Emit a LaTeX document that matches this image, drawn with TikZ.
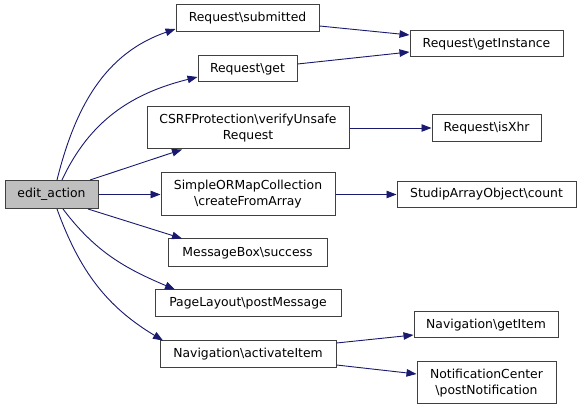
\documentclass[tikz,border=0pt]{standalone}
\usepackage{fontspec}
\setmainfont{DejaVu Sans}
\usetikzlibrary{arrows.meta}
\definecolor{edgeblue}{HTML}{191970}
\definecolor{boxgray}{HTML}{BFBFBF}
\definecolor{boxline}{HTML}{404040}
\begin{document}
\begin{tikzpicture}[x=1pt,y=1pt,
  fn/.style={draw=boxline,line width=1pt,fill=white,inner sep=0pt,align=center,
    font=\fontsize{12.4}{16}\selectfont},
  cur/.style={fn,fill=boxgray},
  call/.style={draw=edgeblue,line width=0.9pt,-{Triangle[length=10pt,width=7.5pt]}}]
\useasboundingbox (0,0) rectangle (581,-411);
\fill[white] (0,0) rectangle (581,-411);
% nodes
\node[cur,minimum width=93pt,minimum height=28pt] (E) at (51.5,-194.5) {edit\_action};
\node[fn,minimum width=143pt,minimum height=27pt] (RS) at (247.5,-18.5) {Request\textbackslash submitted};
\node[fn,minimum width=99pt,minimum height=26pt] (RG) at (247.5,-69) {Request\textbackslash get};
\node[fn,minimum width=202pt,minimum height=42pt] (CS) at (248,-128) {CSRFProtection\textbackslash verifyUnsafe\\Request};
\node[fn,minimum width=174pt,minimum height=43pt] (SO) at (248,-194.5) {SimpleORMapCollection\\\textbackslash createFromArray};
\node[fn,minimum width=159pt,minimum height=28pt] (MB) at (247.5,-253) {MessageBox\textbackslash success};
\node[fn,minimum width=186pt,minimum height=27pt] (PL) at (248,-303.5) {PageLayout\textbackslash postMessage};
\node[fn,minimum width=176pt,minimum height=27pt] (NA) at (248,-354.5) {Navigation\textbackslash activateItem};
\node[fn,minimum width=153pt,minimum height=26pt] (GI) at (486.5,-44) {Request\textbackslash getInstance};
\node[fn,minimum width=109pt,minimum height=27pt] (IX) at (486.5,-128) {Request\textbackslash isXhr};
\node[fn,minimum width=179pt,minimum height=26pt] (SC) at (486.5,-194.5) {StudipArrayObject\textbackslash count};
\node[fn,minimum width=144pt,minimum height=26pt] (GT) at (486,-325) {Navigation\textbackslash getItem};
\node[fn,minimum width=139pt,minimum height=42pt] (NC) at (486.5,-383) {NotificationCenter\\\textbackslash postNotification};
% edges from edit_action
\draw[call] ([shift={(5.5,0)}]E.north) to[out=76,in=199] ([shift={(0,-10.5)}]RS.west);
\draw[call] ([shift={(10.5,0)}]E.north) to[out=65,in=194] ([shift={(0,-8)}]RG.west);
\draw[call] ([shift={(38.5,0)}]E.north) -- ([shift={(-66,0)}]CS.south);
\draw[call] (E.east) -- (SO.west);
\draw[call] ([shift={(36.5,0)}]E.south) -- ([shift={(-65.5,0)}]MB.north);
\draw[call] ([shift={(11.5,0)}]E.south) to[out=-53,in=157] ([shift={(-73,0)}]PL.north);
\draw[call] ([shift={(5.5,0)}]E.south) to[out=-70,in=149] ([shift={(-85,0)}]NA.north);
% second level
\draw[call] ([shift={(0,-7.5)}]RS.east) -- ([shift={(0,9)}]GI.west);
\draw[call] ([shift={(0,5)}]RG.east) -- ([shift={(0,-8)}]GI.west);
\draw[call] (CS.east) -- (IX.west);
\draw[call] (SO.east) -- (SC.west);
\draw[call] ([shift={(0,11.5)}]NA.east) -- ([shift={(0,-10)}]GT.west);
\draw[call] ([shift={(0,-10.5)}]NA.east) -- ([shift={(0,9)}]NC.west);
\end{tikzpicture}
\end{document}
